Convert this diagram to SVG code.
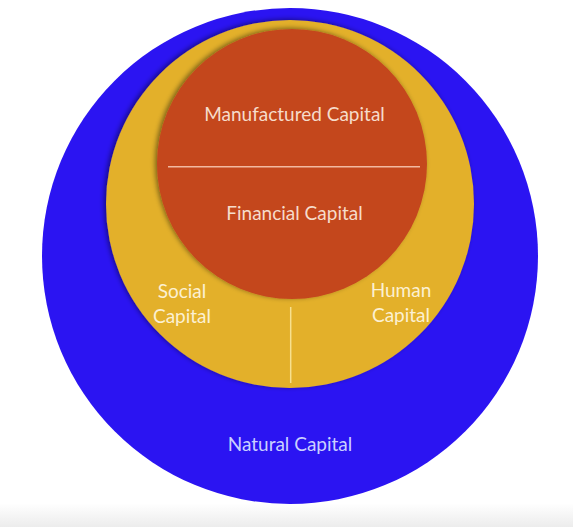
<svg xmlns="http://www.w3.org/2000/svg" width="573" height="527" viewBox="0 0 573 527">
  <defs>
    <filter id="shadow" x="-10%" y="-10%" width="120%" height="120%">
      <feDropShadow dx="-2" dy="-1" stdDeviation="2.5" flood-color="#000000" flood-opacity="0.45"/>
    </filter>
    <linearGradient id="bg" x1="0" y1="0" x2="0" y2="1">
      <stop offset="0.955" stop-color="#ffffff"/>
      <stop offset="1" stop-color="#ececec"/>
    </linearGradient>
  </defs>
  <style>
    text { font-family: "Lato", "Liberation Sans", sans-serif; font-size: 19px; text-anchor: middle; }
    .onRed { fill: #f6dccb; }
    .onYellow { fill: #fcf0d2; }
    .onBlue { fill: #c9d0ff; }
  </style>
  <rect x="0" y="0" width="573" height="527" fill="url(#bg)"/>
  <g id="natural">
    <circle cx="290" cy="256" r="248" fill="#2b14f2"/>
    <text class="onBlue" x="290" y="451">Natural Capital</text>
  </g>
  <g id="social-human">
    <circle cx="290" cy="204" r="184" fill="#e3b02c" filter="url(#shadow)"/>
  </g>
  <g id="social">
    <text class="onYellow" x="182" y="298">Social</text>
    <text class="onYellow" x="182" y="323">Capital</text>
  </g>
  <g id="human">
    <text class="onYellow" x="401" y="297">Human</text>
    <text class="onYellow" x="401" y="322">Capital</text>
  </g>
  <g id="manufactured-financial">
    <circle cx="292" cy="164" r="135" fill="#c4471f" filter="url(#shadow)"/>
  </g>
  <g id="manufactured">
    <text class="onRed" x="294.5" y="121">Manufactured Capital</text>
  </g>
  <g id="financial">
    <text class="onRed" x="294.5" y="220">Financial Capital</text>
  </g>
  <g id="connectors">
    <line x1="168" y1="166.7" x2="420" y2="166.7" stroke="#f2b9a0" stroke-width="1.5"/>
    <line x1="290.7" y1="307" x2="290.7" y2="383" stroke="#f7e08e" stroke-width="1.5"/>
  </g>
</svg>
